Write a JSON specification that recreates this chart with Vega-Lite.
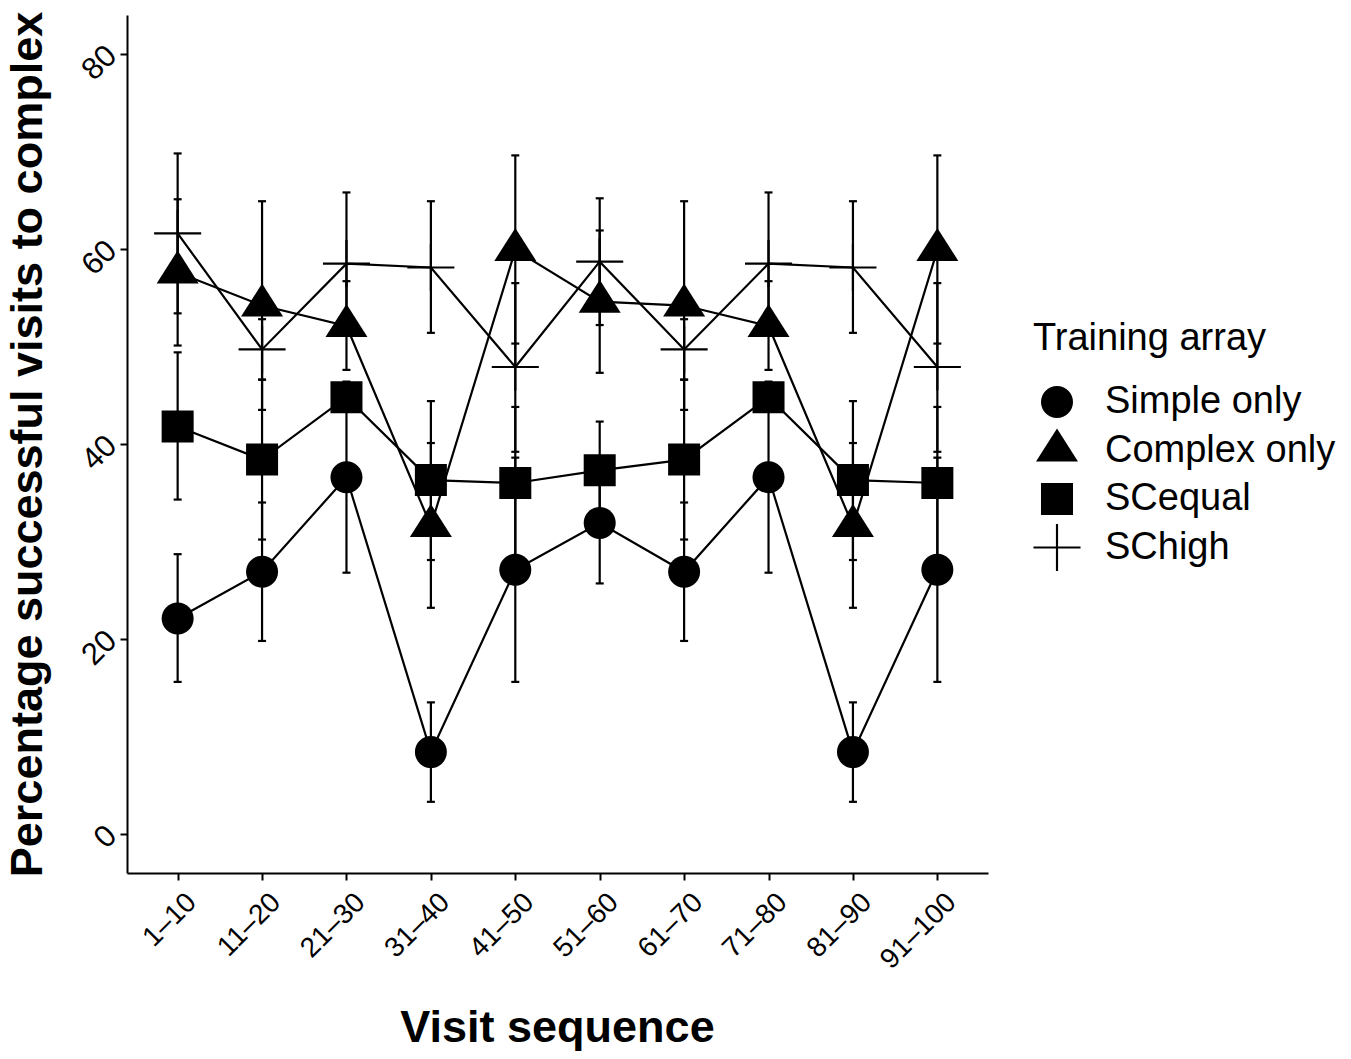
{
  "$schema": "https://vega.github.io/schema/vega-lite/v6.json",
  "width": 861,
  "height": 858,
  "autosize": {"type": "none"},
  "padding": {"left": 127, "top": 15, "right": 363, "bottom": 186},
  "background": "white",
  "data": {
    "values": [
      {"seq": "1–10", "group": "Simple only", "mean": 22.1, "lo": 15.6, "hi": 28.7},
      {"seq": "1–10", "group": "Complex only", "mean": 57.6, "lo": 50.1, "hi": 65.1},
      {"seq": "1–10", "group": "SCequal", "mean": 41.8, "lo": 34.3, "hi": 49.4},
      {"seq": "1–10", "group": "SChigh", "mean": 61.6, "lo": 53.4, "hi": 69.8},
      {"seq": "11–20", "group": "Simple only", "mean": 26.9, "lo": 19.8, "hi": 34.0},
      {"seq": "11–20", "group": "Complex only", "mean": 54.2, "lo": 43.5, "hi": 64.9},
      {"seq": "11–20", "group": "SCequal", "mean": 38.4, "lo": 30.2, "hi": 46.6},
      {"seq": "11–20", "group": "SChigh", "mean": 49.7, "lo": 46.6, "hi": 52.8},
      {"seq": "21–30", "group": "Simple only", "mean": 36.6, "lo": 26.8, "hi": 46.4},
      {"seq": "21–30", "group": "Complex only", "mean": 52.1, "lo": 47.6, "hi": 56.7},
      {"seq": "21–30", "group": "SCequal", "mean": 44.8, "lo": 43.8, "hi": 45.8},
      {"seq": "21–30", "group": "SChigh", "mean": 58.5, "lo": 51.2, "hi": 65.8},
      {"seq": "31–40", "group": "Simple only", "mean": 8.4, "lo": 3.3, "hi": 13.5},
      {"seq": "31–40", "group": "Complex only", "mean": 31.6, "lo": 23.2, "hi": 40.1},
      {"seq": "31–40", "group": "SCequal", "mean": 36.3, "lo": 28.1, "hi": 44.4},
      {"seq": "31–40", "group": "SChigh", "mean": 58.1, "lo": 51.4, "hi": 64.9},
      {"seq": "41–50", "group": "Simple only", "mean": 27.1, "lo": 15.6, "hi": 38.6},
      {"seq": "41–50", "group": "Complex only", "mean": 59.9, "lo": 50.3, "hi": 69.6},
      {"seq": "41–50", "group": "SCequal", "mean": 36.0, "lo": 28.1, "hi": 43.8},
      {"seq": "41–50", "group": "SChigh", "mean": 47.9, "lo": 39.2, "hi": 56.5},
      {"seq": "51–60", "group": "Simple only", "mean": 31.9, "lo": 25.7, "hi": 38.1},
      {"seq": "51–60", "group": "Complex only", "mean": 54.6, "lo": 47.3, "hi": 61.9},
      {"seq": "51–60", "group": "SCequal", "mean": 37.3, "lo": 32.4, "hi": 42.3},
      {"seq": "51–60", "group": "SChigh", "mean": 58.7, "lo": 52.2, "hi": 65.2},
      {"seq": "61–70", "group": "Simple only", "mean": 26.9, "lo": 19.8, "hi": 34.0},
      {"seq": "61–70", "group": "Complex only", "mean": 54.2, "lo": 43.5, "hi": 64.9},
      {"seq": "61–70", "group": "SCequal", "mean": 38.4, "lo": 30.2, "hi": 46.6},
      {"seq": "61–70", "group": "SChigh", "mean": 49.7, "lo": 46.6, "hi": 52.8},
      {"seq": "71–80", "group": "Simple only", "mean": 36.6, "lo": 26.8, "hi": 46.4},
      {"seq": "71–80", "group": "Complex only", "mean": 52.1, "lo": 47.6, "hi": 56.7},
      {"seq": "71–80", "group": "SCequal", "mean": 44.8, "lo": 43.8, "hi": 45.8},
      {"seq": "71–80", "group": "SChigh", "mean": 58.5, "lo": 51.2, "hi": 65.8},
      {"seq": "81–90", "group": "Simple only", "mean": 8.4, "lo": 3.3, "hi": 13.5},
      {"seq": "81–90", "group": "Complex only", "mean": 31.6, "lo": 23.2, "hi": 40.1},
      {"seq": "81–90", "group": "SCequal", "mean": 36.3, "lo": 28.1, "hi": 44.4},
      {"seq": "81–90", "group": "SChigh", "mean": 58.1, "lo": 51.4, "hi": 64.9},
      {"seq": "91–100", "group": "Simple only", "mean": 27.1, "lo": 15.6, "hi": 38.6},
      {"seq": "91–100", "group": "Complex only", "mean": 59.9, "lo": 50.3, "hi": 69.6},
      {"seq": "91–100", "group": "SCequal", "mean": 36.0, "lo": 28.1, "hi": 43.8},
      {"seq": "91–100", "group": "SChigh", "mean": 47.9, "lo": 39.2, "hi": 56.5}
    ]
  },
  "encoding": {
    "x": {
      "field": "seq",
      "type": "nominal",
      "sort": ["1–10", "11–20", "21–30", "31–40", "41–50", "51–60", "61–70", "71–80", "81–90", "91–100"],
      "scale": {"type": "point", "padding": 0.6},
      "axis": {
        "title": "Visit sequence",
        "labelFontSize": 28,
        "labelAngle": -45,
        "labelAlign": "right",
        "labelBaseline": "top",
        "labelPadding": 8,
        "labelOffset": 4,
        "titleX": 430,
        "titleY": 154,
        "titleBaseline": "middle"
      }
    }
  },
  "layer": [
    {
      "mark": {"type": "rule", "color": "black", "strokeWidth": 2.2},
      "encoding": {
        "y": {"field": "lo", "type": "quantitative"},
        "y2": {"field": "hi"}
      }
    },
    {
      "mark": {"type": "tick", "color": "black", "size": 8, "thickness": 2.2, "opacity": 1},
      "encoding": {"y": {"field": "lo", "type": "quantitative"}}
    },
    {
      "mark": {"type": "tick", "color": "black", "size": 8, "thickness": 2.2, "opacity": 1},
      "encoding": {"y": {"field": "hi", "type": "quantitative"}}
    },
    {
      "mark": {"type": "line", "color": "black", "strokeWidth": 2.2},
      "encoding": {
        "y": {"field": "mean", "type": "quantitative"},
        "detail": {"field": "group"}
      }
    },
    {
      "mark": {"type": "point", "filled": true, "color": "black", "strokeWidth": 0, "opacity": 1, "size": 2304},
      "encoding": {
        "y": {
          "field": "mean",
          "type": "quantitative",
          "scale": {"domain": [-4, 84], "nice": false, "zero": false},
          "axis": {
            "title": "Percentage successful visits to complex",
            "values": [0, 20, 40, 60, 80],
            "labelFontSize": 31,
            "labelAngle": -45,
            "labelAlign": "right",
            "labelBaseline": "top",
            "labelPadding": 19,
            "labelOffset": -14,
            "titleX": -100,
            "titleY": 429,
            "titleAngle": -90,
            "titleBaseline": "middle",
            "titleAlign": "center"
          }
        },
        "shape": {
          "field": "group",
          "type": "nominal",
          "sort": ["Simple only", "Complex only", "SCequal", "SChigh"],
          "scale": {
            "domain": ["Simple only", "Complex only", "SCequal", "SChigh"],
            "range": [
              "M-0.667,0A0.667,0.667 0 1,0 0.667,0A0.667,0.667 0 1,0 -0.667,0Z",
              "M0,-0.917L0.875,0.458L-0.875,0.458Z",
              "M-0.667,-0.667L0.667,-0.667L0.667,0.667L-0.667,0.667Z",
              "M-0.98,-0.045L-0.045,-0.045L-0.045,-0.98L0.045,-0.98L0.045,-0.045L0.98,-0.045L0.98,0.045L0.045,0.045L0.045,0.98L-0.045,0.98L-0.045,0.045L-0.98,0.045Z"
            ]
          },
          "legend": {
            "title": "Training array",
            "orient": "none",
            "legendX": 906,
            "legendY": 305,
            "padding": 0,
            "titlePadding": 20,
            "labelOffset": 24,
            "labelLimit": 0,
            "titleLimit": 0,
            "rowPadding": 5.5,
            "symbolSize": 2304,
            "symbolFillColor": "black",
            "symbolStrokeWidth": 0,
            "symbolOpacity": 1
          }
        }
      }
    }
  ],
  "config": {
    "view": {"stroke": null},
    "font": "Liberation Sans",
    "axis": {
      "grid": false,
      "domainColor": "black",
      "domainWidth": 2,
      "tickColor": "black",
      "tickWidth": 2,
      "tickSize": 7,
      "labelColor": "black",
      "labelFont": "Liberation Sans",
      "labelFontSize": 28,
      "titleColor": "black",
      "titleFont": "Liberation Sans",
      "titleFontSize": 45,
      "titleFontWeight": "bold"
    },
    "legend": {
      "titleFont": "Liberation Sans",
      "titleFontSize": 38,
      "titleFontWeight": "normal",
      "titleColor": "black",
      "labelFont": "Liberation Sans",
      "labelFontSize": 38,
      "labelColor": "black"
    }
  }
}
